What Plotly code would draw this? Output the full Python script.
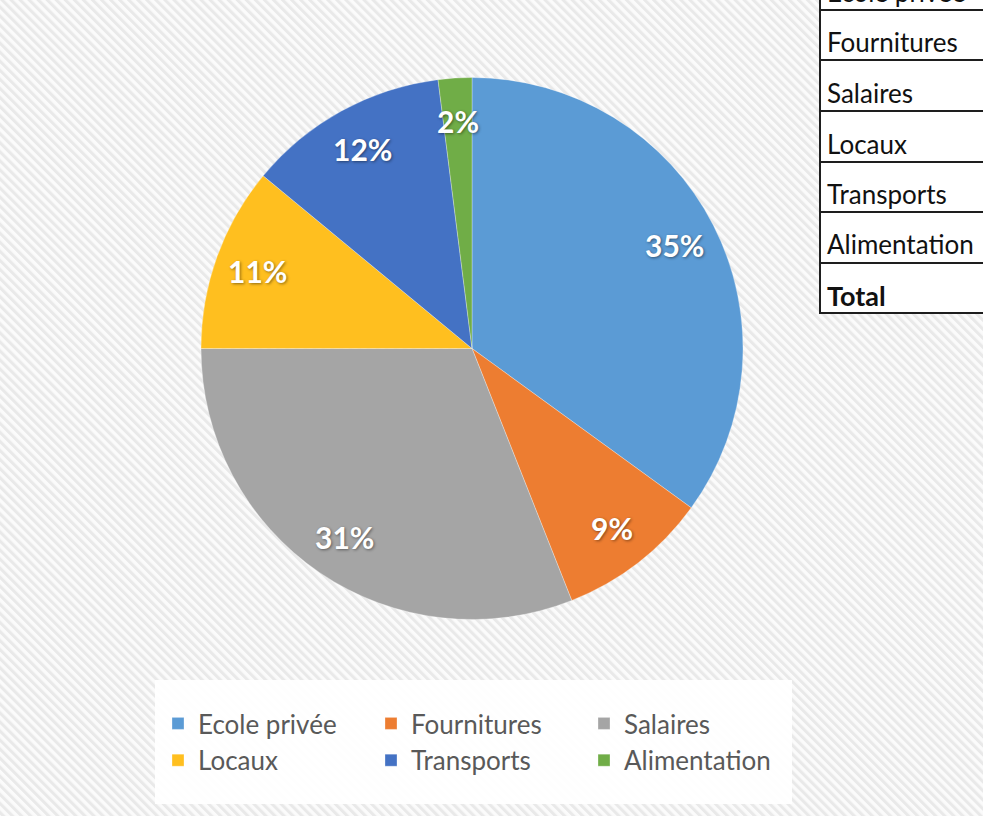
import base64
import math
import plotly.graph_objects as go

# ---- data ----
categories = ["Ecole privée", "Fournitures", "Salaires", "Locaux", "Transports", "Alimentation"]
shares = [35, 9, 31, 11, 12, 2]
colors = ["#5B9BD5", "#ED7D31", "#A5A5A5", "#FFBF1F", "#4472C4", "#70AD47"]
table_rows = categories + ["Total"]

W, H = 983, 816
ML, MR, MT, MB = 150, 133, 0, 0
PW, PH = W - ML - MR, H - MT - MB


def px2x(px):
    return (px - ML) / PW


def py2y(py):
    return 1 - (py - MT) / PH


# striped background as an SVG pattern
svg = f'''<svg xmlns="http://www.w3.org/2000/svg" width="{W}" height="{H}">
<defs><pattern id="p" patternUnits="userSpaceOnUse" width="6.4" height="6.4" patternTransform="rotate(-45)">
<rect width="6.4" height="6.4" fill="#fbfbfb"/><rect width="3" height="6.4" fill="#e9e9e9"/></pattern></defs>
<rect width="{W}" height="{H}" fill="url(#p)"/></svg>'''
bg_uri = "data:image/svg+xml;base64," + base64.b64encode(svg.encode()).decode()

# pie placement (pixels)
PIE_L, PIE_R, PIE_T, PIE_B = 201, 743, 77, 620
CX, CY = (PIE_L + PIE_R) / 2, (PIE_T + PIE_B) / 2
R = min(PIE_R - PIE_L, PIE_B - PIE_T) / 2

fig = go.Figure()
fig.add_trace(go.Pie(
    labels=categories,
    values=shares,
    sort=False,
    direction="clockwise",
    rotation=0,
    marker=dict(colors=colors, line=dict(color="rgba(255,255,255,0.5)", width=0.6)),
    textinfo="none",
    domain=dict(x=[px2x(PIE_L), px2x(PIE_R)], y=[py2y(PIE_B), py2y(PIE_T)]),
    hoverinfo="label+percent",
))

# percentage labels placed along each slice's bisector (Excel-like "best fit")
annotations = []
total = sum(shares)
cum = 0
for v in shares:
    mid = (cum + v / 2) / total * 2 * math.pi
    cum += v
    lx = CX + 0.84 * R * math.sin(mid)
    ly = CY - 0.84 * R * math.cos(mid)
    annotations.append(dict(
        text=f"{round(100 * v / total)}%", xref="paper", yref="paper",
        x=px2x(lx), y=py2y(ly), xanchor="center", yanchor="middle", showarrow=False,
        font=dict(family="Lato", size=30, color="white", weight="bold",
                  shadow="1px 1px 3px rgba(0,0,0,0.45)"),
    ))

shapes = [
    dict(type="rect", xref="paper", yref="paper", layer="below",
         x0=px2x(155), x1=px2x(792), y0=py2y(804), y1=py2y(680),
         fillcolor="rgba(255,255,255,0.92)", line=dict(width=0)),
]

# table (top right, partly outside the picture)
row_lines = [10, 60, 111, 162, 212, 263, 313]
shapes.append(dict(type="rect", xref="paper", yref="paper", layer="above",
                   x0=px2x(820), x1=px2x(1100), y0=py2y(313), y1=py2y(-45),
                   fillcolor="white", line=dict(color="#1e1e1e", width=2)))
for yy in row_lines:
    shapes.append(dict(type="line", xref="paper", yref="paper",
                       x0=px2x(820), x1=px2x(1100), y0=py2y(yy), y1=py2y(yy),
                       line=dict(color="#1e1e1e", width=2)))

row_bottoms = [10] + row_lines[1:]
for i, name in enumerate(table_rows):
    bottom = row_bottoms[i]
    top = bottom - 50 if i == 0 else row_lines[i - 1]
    mid = (top + bottom) / 2 + 7
    bold = name == "Total"
    annotations.append(dict(
        text=f"<b>{name}</b>" if bold else name,
        xref="paper", yref="paper", x=px2x(825), y=py2y(mid),
        xanchor="left", yanchor="middle", showarrow=False,
        font=dict(family="Lato", size=26 if not bold else 27, color="#111111"),
    ))

fig.update_layout(
    width=W, height=H,
    margin=dict(l=ML, r=MR, t=MT, b=MB),
    paper_bgcolor="white",
    plot_bgcolor="white",
    images=[dict(source=bg_uri, xref="paper", yref="paper", x=px2x(0), y=py2y(0),
                 sizex=W / PW, sizey=H / PH, sizing="stretch", layer="below",
                 xanchor="left", yanchor="top")],
    shapes=shapes,
    annotations=annotations,
    showlegend=True,
    legend=dict(
        orientation="h",
        x=px2x(158), y=py2y(700), xanchor="left", yanchor="top",
        entrywidth=168, entrywidthmode="pixels",
        font=dict(family="Lato", size=26, color="#595959"),
        bgcolor="rgba(0,0,0,0)",
        itemclick=False, itemdoubleclick=False,
    ),
)

fig.write_html("out.html", config={"displayModeBar": False},
               post_script="document.body.style.margin='0';")
